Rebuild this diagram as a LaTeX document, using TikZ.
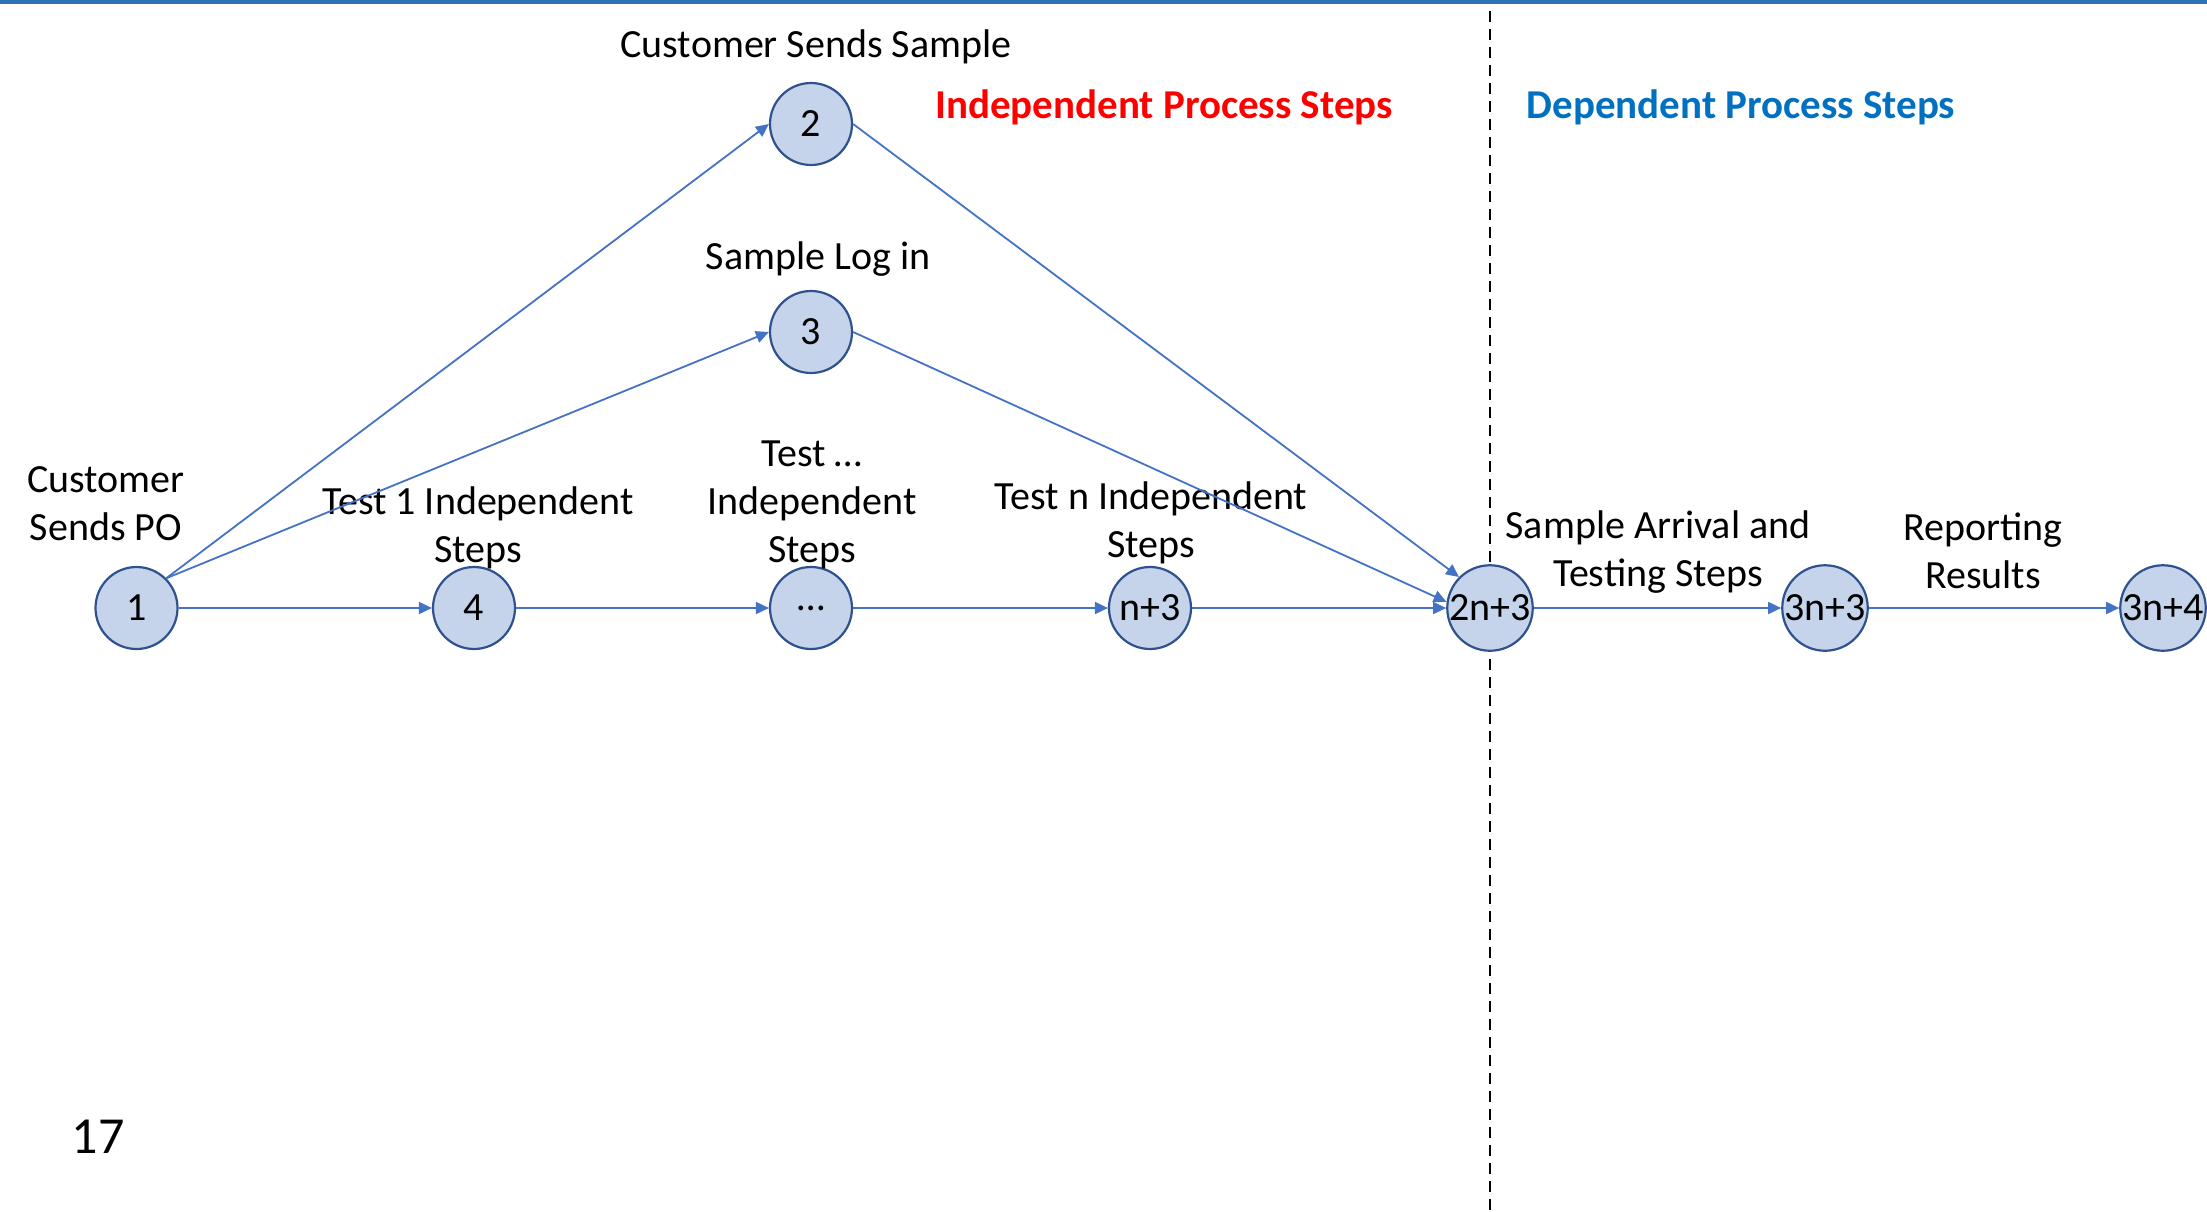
\documentclass[tikz,border=0pt]{standalone}
\usepackage{fontspec}
\setmainfont{Carlito}
\usetikzlibrary{arrows.meta}
\definecolor{nodefill}{HTML}{C5D3EB}
\definecolor{nodeline}{HTML}{2F528F}
\definecolor{arrowc}{HTML}{4472C4}
\definecolor{topbar}{HTML}{2E75B6}
\definecolor{depblue}{HTML}{0070C0}
\definecolor{indred}{HTML}{FF0000}
\begin{document}
\begin{tikzpicture}[x=0.5pt,y=-0.5pt,
  every node/.style={font=\fontsize{20pt}{24pt}\selectfont},
  stepnode/.style={circle,draw=nodeline,fill=nodefill,line width=1.1pt,minimum size=41pt,inner sep=0pt},
  lbl/.style={align=center,inner sep=0pt},
  conn/.style={draw=arrowc,line width=0.9pt,-{Triangle[length=6.5pt,width=6pt]}},
  hdr/.style={inner sep=0pt,font=\fontsize{20.5pt}{24pt}\selectfont\bfseries}
]
\useasboundingbox (0,0) rectangle (2207,1211);
\fill[topbar] (0,0) rectangle (2207,3.5);
% divider
\coordinate (dtop) at (1490,11);
\coordinate (dbot) at (1490,1211);
\draw[black,line width=0.9pt,dash pattern=on 5.5pt off 3.5pt] (dtop) -- (dbot);
% nodes
\node[stepnode] (n1) at (136.5,608) {1};
\node[stepnode] (n4) at (474,608) {4};
\node[stepnode] (nd) at (811,608) {…};
\node[stepnode] (nn3) at (1150,608) {n+3};
\node[stepnode] (n2n3) at (1490,608) {2n+3};
\node[stepnode] (n3n3) at (1825,608) {3n+3};
\node[stepnode] (n3n4) at (2163,608) {3n+4};
\node[stepnode] (n2) at (811,124) {2};
\node[stepnode] (n3) at (811,332) {3};
% labels
\node[lbl] (l2) at (816,47) {Customer Sends Sample};
\node[lbl] (l3) at (818,259) {Sample Log in};
\node[lbl] (l1) at (106,504) {Customer\\Sends PO};
\node[lbl] (l4) at (478,528) {Test 1 Independent\\Steps};
\node[lbl] (ld) at (812,505) {Test …\\Independent\\Steps};
\node[lbl] (lnn3) at (1151,523) {Test n Independent\\Steps};
\node[lbl] (l2n3) at (1658,552) {Sample Arrival and\\Testing Steps};
\node[lbl] (l3n3) at (1983,551) {Reporting\\Results};
\node[lbl,font=\fontsize{26pt}{30pt}\selectfont] (pg) at (98,1137) {17};
\node[hdr,text=indred] (hind) at (1164,107) {Independent Process Steps};
\node[hdr,text=depblue] (hdep) at (1741,107) {Dependent Process Steps};
% connectors
\draw[conn] (n1.north east) -- (n2.west);
\draw[conn] (n1.north east) -- (n3.west);
\draw[conn] (n2.east) -- (n2n3.north west);
\draw[conn] (n3.east) -- (n2n3.172);
\draw[conn] (n1) -- (n4);
\draw[conn] (n4) -- (nd);
\draw[conn] (nd) -- (nn3);
\draw[conn] (nn3) -- (n2n3);
\draw[conn] (n2n3) -- (n3n3);
\draw[conn] (n3n3) -- (n3n4);
\end{tikzpicture}
\end{document}
